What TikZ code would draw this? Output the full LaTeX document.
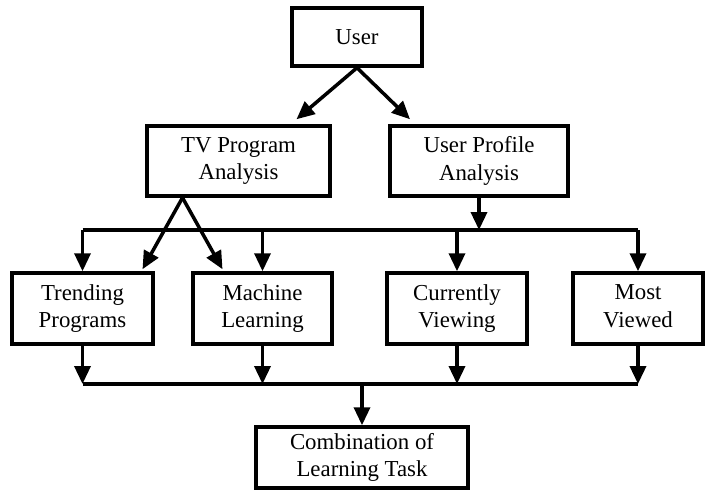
\documentclass[tikz,border=0pt]{standalone}
\usepackage{fontspec}
\setmainfont{Liberation Serif}
\usetikzlibrary{arrows.meta,calc}

\begin{document}
\begin{tikzpicture}[x=0.02cm, y=-0.02cm,
        box/.style={draw, line width=2pt, align=center, inner sep=0pt,
                    font=\fontsize{13}{15.5}\selectfont},
        arr/.style={line width=2pt, -{Triangle[length=0.36cm,width=0.32cm]}},
        bus/.style={line width=2pt}]
                \useasboundingbox (0,0) rectangle (705,490);

                \node[box, minimum width=2.6cm, minimum height=1.16cm] (user) at (357,37) {User};
                \node[box, minimum width=3.66cm, minimum height=1.4cm] (tvprog) at (238.5,161) {TV Program\\Analysis};
                \node[box, minimum width=3.56cm, minimum height=1.4cm] (profile) at (479,161) {User Profile\\Analysis};

                \draw[arr] (user.south) -- ($(tvprog.north)+(58,-5)$);
                \draw[arr] (user.south) -- ($(profile.north)+(-69,-5)$);

                \node[box, minimum width=2.82cm, minimum height=1.42cm] (trending) at (82.5,308.5) {Trending\\Programs};
                \node[box, minimum width=2.78cm, minimum height=1.42cm] (machine) at (262.5,308.5) {Machine\\Learning};
                \node[box, minimum width=2.8cm, minimum height=1.42cm] (current) at (457,308.5) {Currently\\Viewing};
                \node[box, minimum width=2.6cm, minimum height=1.42cm] (most) at (638,308.5) {Most\\Viewed\vphantom{g}};

                \coordinate (topbus) at (479,230);
                \coordinate (lowbus) at (362,384);

                \draw[arr] (profile.south) -- (topbus);
                \draw[bus] (trending.north |- topbus) -- (most.north |- topbus);
                \draw[arr] (trending.north |- topbus) -- (trending.north);
                \draw[arr] (machine.north |- topbus) -- (machine.north);
                \draw[arr] (current.north |- topbus) -- (current.north);
                \draw[arr] (most.north |- topbus) -- (most.north);

                \coordinate (fork) at ($(tvprog.south)+(-56,0)$);
                \draw[arr] (fork) -- ($(trending.north)+(60,-2)$);
                \draw[arr] (fork) -- ($(machine.north)+(-40,-2)$);

                \draw[arr] (trending.south) -- (trending.south |- lowbus);
                \draw[arr] (machine.south) -- (machine.south |- lowbus);
                \draw[arr] (current.south) -- (current.south |- lowbus);
                \draw[arr] (most.south) -- (most.south |- lowbus);
                \draw[bus] (trending.south |- lowbus) -- (most.south |- lowbus);

                \node[box, minimum width=4.24cm, minimum height=1.22cm] (combo) at (362,457.5) {Combination of\\Learning Task};
                \draw[arr] (lowbus) -- (combo.north);
            \end{tikzpicture}
\end{document}
